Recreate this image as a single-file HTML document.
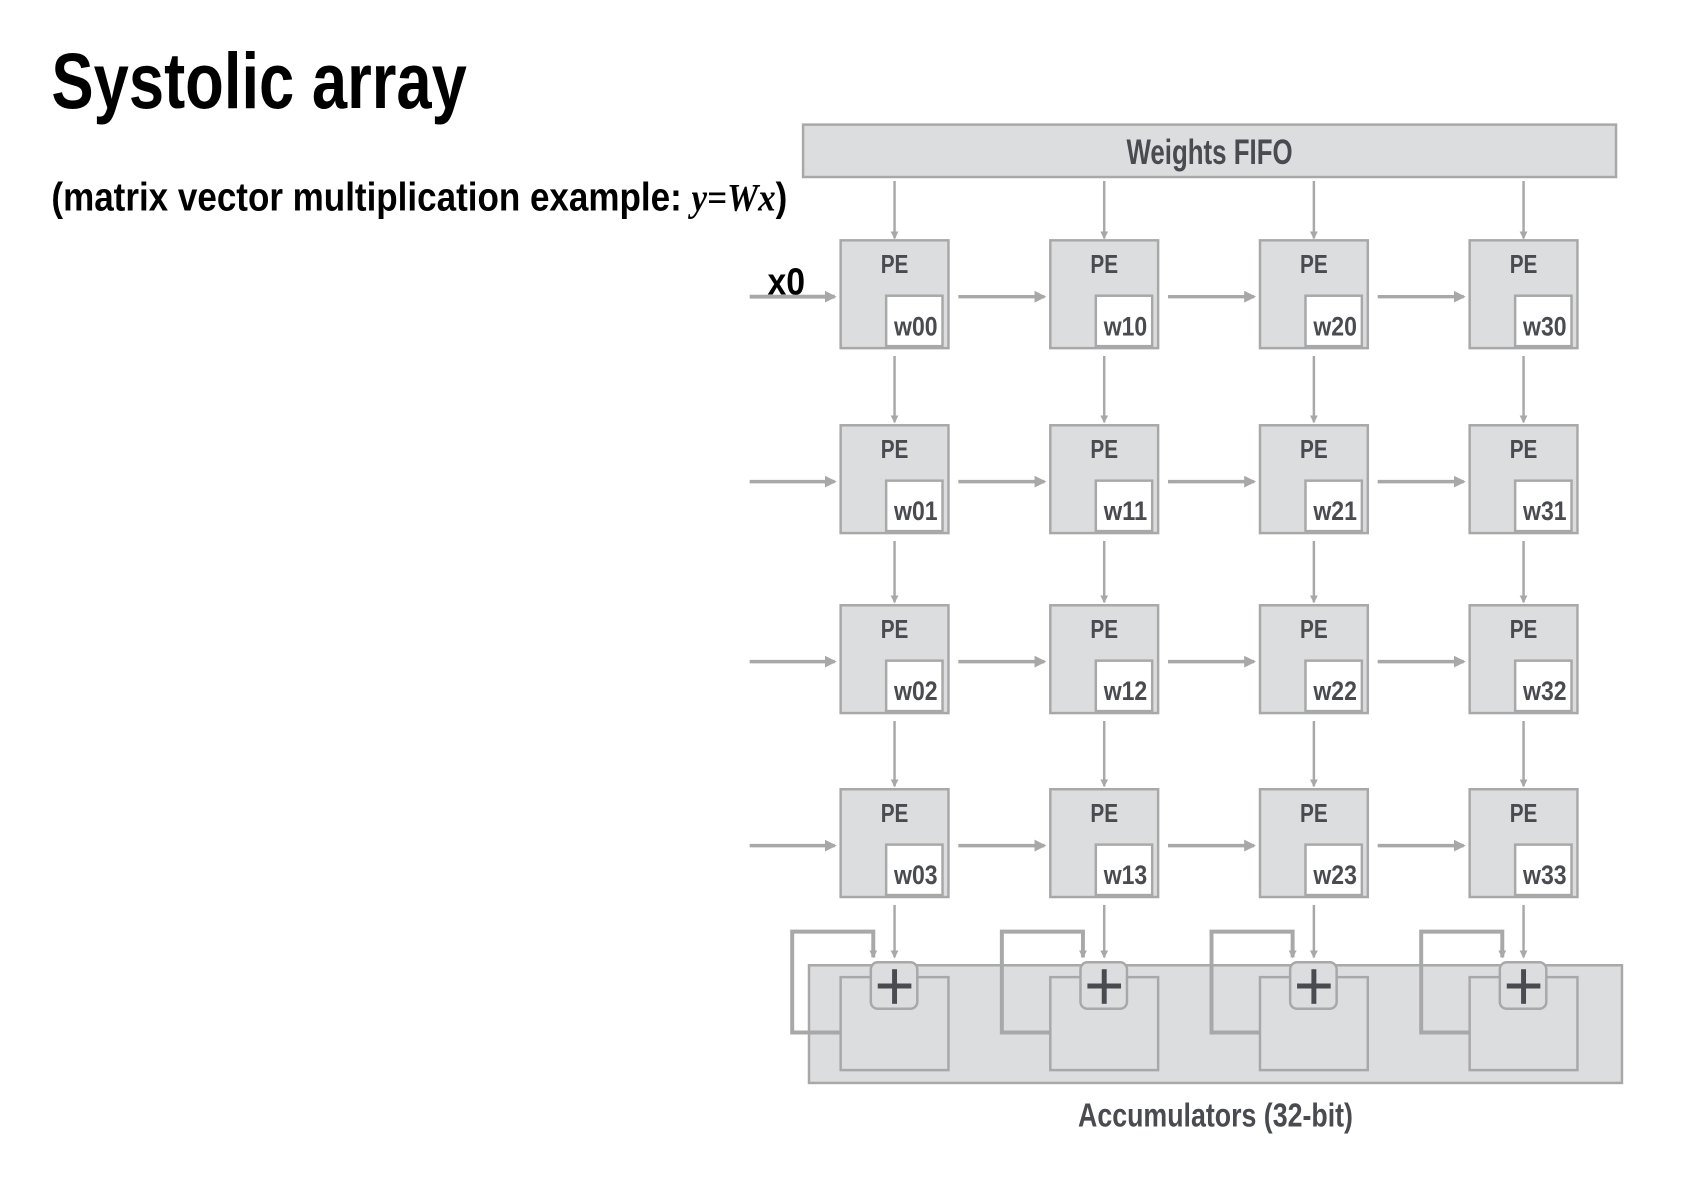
<!DOCTYPE html>
<html><head><meta charset="utf-8"><style>
html,body{margin:0;padding:0;background:#fff;}
svg{display:block;}
text{font-family:"Liberation Sans",sans-serif;font-weight:bold;}
</style></head><body>
<svg id="s" width="1694" height="1196" viewBox="0 0 1694 1196" xmlns="http://www.w3.org/2000/svg">
<defs>
<marker id="ah" markerWidth="8" markerHeight="8" refX="7" refY="4" orient="auto" markerUnits="userSpaceOnUse" viewBox="0 0 8 8"><path d="M0,0 L8,4 L0,8 z" fill="#a8a8a8"/></marker>
<marker id="ah2" markerWidth="12" markerHeight="12" refX="10" refY="6" orient="auto" markerUnits="userSpaceOnUse" viewBox="0 0 12 12"><path d="M0,0 L12,6 L0,12 z" fill="#a8a8a8"/></marker>
</defs>
<g transform="scale(0.989)">
<text x="52" y="109" font-size="80" fill="#000" textLength="420" lengthAdjust="spacingAndGlyphs">Systolic array</text>
<text x="52" y="213" font-size="40" fill="#000" textLength="744" lengthAdjust="spacingAndGlyphs">(matrix vector multiplication example: <tspan font-family="Liberation Serif,serif" font-style="italic">y=Wx</tspan>)</text>
<rect x="812" y="126" width="822" height="53" fill="#dcdddf" stroke="#a8a8a8" stroke-width="2.5"/>
<text x="1223" y="166" font-size="36" fill="#4a4b50" text-anchor="middle" textLength="168" lengthAdjust="spacingAndGlyphs">Weights FIFO</text>
<rect x="818" y="976" width="822" height="119" fill="#dcdddf" stroke="#a8a8a8" stroke-width="2.5"/>
<text x="1229" y="1139" font-size="34" fill="#4a4b50" text-anchor="middle" textLength="278" lengthAdjust="spacingAndGlyphs">Accumulators (32-bit)</text>
<text x="776" y="298" font-size="38" fill="#000" textLength="38" lengthAdjust="spacingAndGlyphs">x0</text>
<g id="g"></g>
</g>
</svg>
<script>
const colX=[850,1062,1274,1486];
const rowY=[243,430,612,798];
const weightLabels=[["w00","w10","w20","w30"],["w01","w11","w21","w31"],["w02","w12","w22","w32"],["w03","w13","w23","w33"]];
const NS="http://www.w3.org/2000/svg";
const g=document.getElementById('g');
function mk(t,a){const e=document.createElementNS(NS,t);for(const k in a)e.setAttribute(k,a[k]);g.appendChild(e);return e;}
const W=109,H=109,GR="#a8a8a8",FILL="#dcdddf",TX="#4a4b50";
for(let c=0;c<4;c++){
  const cx=colX[c]+W/2;
  let a=mk('line',{x1:cx,y1:183,x2:cx,y2:rowY[0]-2,stroke:GR,'stroke-width':2.5,'marker-end':'url(#ah)'});
  
  
  for(let r=0;r<4;r++){
    const x=colX[c],y=rowY[r];
    const pe=mk('rect',{x:x,y:y,width:W,height:H,fill:FILL,stroke:GR,'stroke-width':2.5});
    
    
    const t=mk('text',{x:cx,y:y+33,'font-size':26,fill:TX,'text-anchor':'middle',textLength:28,lengthAdjust:'spacingAndGlyphs'});t.textContent='PE';
    
    
    const wb=mk('rect',{x:x+46,y:y+56,width:57,height:51,fill:'#fff',stroke:GR,'stroke-width':2.5});
    
    
    const wt=mk('text',{x:x+76,y:y+96,'font-size':27,fill:TX,'text-anchor':'middle',textLength:44,lengthAdjust:'spacingAndGlyphs'});wt.textContent=weightLabels[r][c];
    
    
    const ay=y+57;
    const hx1=c===0?758:colX[c-1]+W+10;
    const ha=mk('line',{x1:hx1,y1:ay,x2:x-6,y2:ay,stroke:GR,'stroke-width':r===0&&c===0?4:3.5,'marker-end':'url(#ah2)'});
    
    
    const ny=r<3?rowY[r+1]:971;
    const va=mk('line',{x1:cx,y1:y+H+8,x2:cx,y2:ny-3,stroke:GR,'stroke-width':2.5,'marker-end':'url(#ah)'});
    
    
  }
  const x=colX[c];
  const acc=mk('rect',{x:x,y:988,width:W,height:94,fill:FILL,stroke:GR,'stroke-width':2.5});
  
  
  const lp=mk('polyline',{points:`${x},1044 ${x-49},1044 ${x-49},942 ${x+33},942 ${x+33},968`,fill:'none',stroke:GR,'stroke-width':4,'marker-end':'url(#ah)'});
  
  
  const pb=mk('rect',{x:cx-24,y:973,width:47,height:47,rx:7,fill:FILL,stroke:GR,'stroke-width':2.5});
  
  
  const p1=mk('line',{x1:cx-17,y1:997,x2:cx+17,y2:997,stroke:TX,'stroke-width':5});
  
  
  const p2=mk('line',{x1:cx,y1:980,x2:cx,y2:1015,stroke:TX,'stroke-width':5});
  
  
}
</script>
</body></html>
